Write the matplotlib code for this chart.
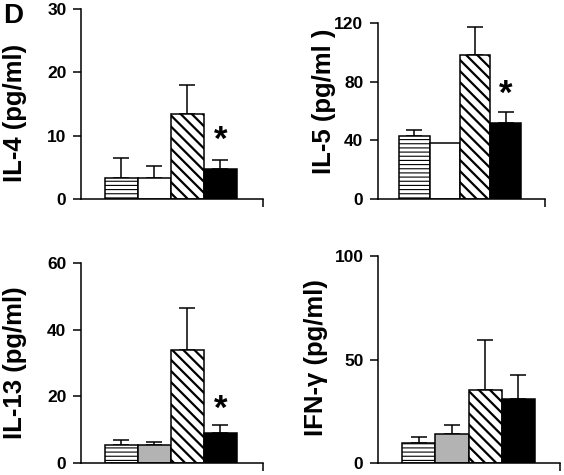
import matplotlib
matplotlib.use("Agg")
import matplotlib.pyplot as plt
import numpy as np

plt.rcParams['font.family'] = ['Liberation Sans', 'DejaVu Sans']
plt.rcParams['font.weight'] = 'bold'

# group order: saline, control, OVA, treated
hatches = ['----', '', '\\\\\\', '']
hatch_lw = [0.8, 0.8, 1.6, 0.8]

il4_mean = [3.35, 3.35, 13.5, 4.75]
il4_err = [3.15, 1.85, 4.5, 1.4]

il5_mean = [43.0, 38.0, 98.5, 51.5]
il5_err = [4.0, 0.0, 19.0, 7.5]

il13_mean = [5.3, 5.3, 34.0, 9.0]
il13_err = [1.7, 1.1, 12.5, 2.3]

ifn_mean = [9.9, 14.1, 35.5, 31.1]
ifn_err = [2.8, 4.3, 23.9, 11.6]

panels = [
    dict(mean=il4_mean, err=il4_err, fill=['white', 'white', 'white', 'black'],
         yticks=[0, 10, 20, 30], label='IL-4 (pg/ml)', star=9.3,
         rect=[81, 199, 182, 190], xlim=(-1.227, 4.29), lab=(15, 113)),
    dict(mean=il5_mean, err=il5_err, fill=['white', 'white', 'white', 'black'],
         yticks=[0, 40, 80, 120], label='IL-5 (pg/ml )', star=71.6,
         rect=[378, 199, 167, 176], xlim=(-1.19, 4.29), lab=(324, 101)),
    dict(mean=il13_mean, err=il13_err, fill=['white', '#b3b3b3', 'white', 'black'],
         yticks=[0, 20, 40, 60], label='IL-13 (pg/ml)', star=16.2,
         rect=[81, 463, 182, 200], xlim=(-1.227, 4.29), lab=(15, 363)),
    dict(mean=ifn_mean, err=ifn_err, fill=['white', '#b3b3b3', 'white', 'black'],
         yticks=[0, 50, 100], label='IFN-\u03b3 (pg/ml)', star=None,
         rect=[378, 463, 182, 207], xlim=(-1.22, 4.25), lab=(316, 358)),
]

W, H = 564, 475
fig = plt.figure(figsize=(W / 100, H / 100), dpi=100)

for p in panels:
    l, b, w, h = p['rect']
    ax = fig.add_axes([l / W, 1 - b / H, w / W, h / H])
    x = np.arange(4)
    for i in range(4):
        plt.rcParams['hatch.linewidth'] = hatch_lw[i]
        bar = ax.bar(x[i], p['mean'][i], width=1.0, color=p['fill'][i],
                     edgecolor='black', linewidth=1.1, hatch=hatches[i], zorder=2)
        for patch in bar:
            if hasattr(patch, 'set_hatch_linewidth'):
                patch.set_hatch_linewidth(hatch_lw[i])
        if p['err'][i] > 0:
            ax.errorbar(x[i], p['mean'][i], yerr=[[0], [p['err'][i]]], fmt='none',
                        ecolor='black', elinewidth=1.1, capsize=5.5, capthick=1.1,
                        zorder=1)
    if p['star'] is not None:
        ax.text(3, p['star'], '*', ha='center', va='center', fontsize=25,
                fontweight='bold')
    ax.set_xlim(*p['xlim'])
    ax.set_ylim(0, p['yticks'][-1])
    ax.set_yticks(p['yticks'])
    ax.set_xticks([p['xlim'][1]])
    ax.set_xticklabels([])
    for s in ['top', 'right']:
        ax.spines[s].set_visible(False)
    for s in ['left', 'bottom']:
        ax.spines[s].set_linewidth(1.1)
    ax.tick_params(axis='both', direction='out', length=5.5, width=1.1,
                   labelsize=12.5, pad=5)
    for t in ax.get_yticklabels():
        t.set_fontweight('bold')
    lx, ly = p['lab']
    fig.text(lx / W, 1 - ly / H, p['label'], rotation=90, ha='center',
             va='center', fontsize=18.5, fontweight='bold')

fig.text(3 / W, 1 - 3 / H, 'D', ha='left', va='top', fontsize=20,
         fontweight='bold')

fig.savefig('out.png', dpi=100)
